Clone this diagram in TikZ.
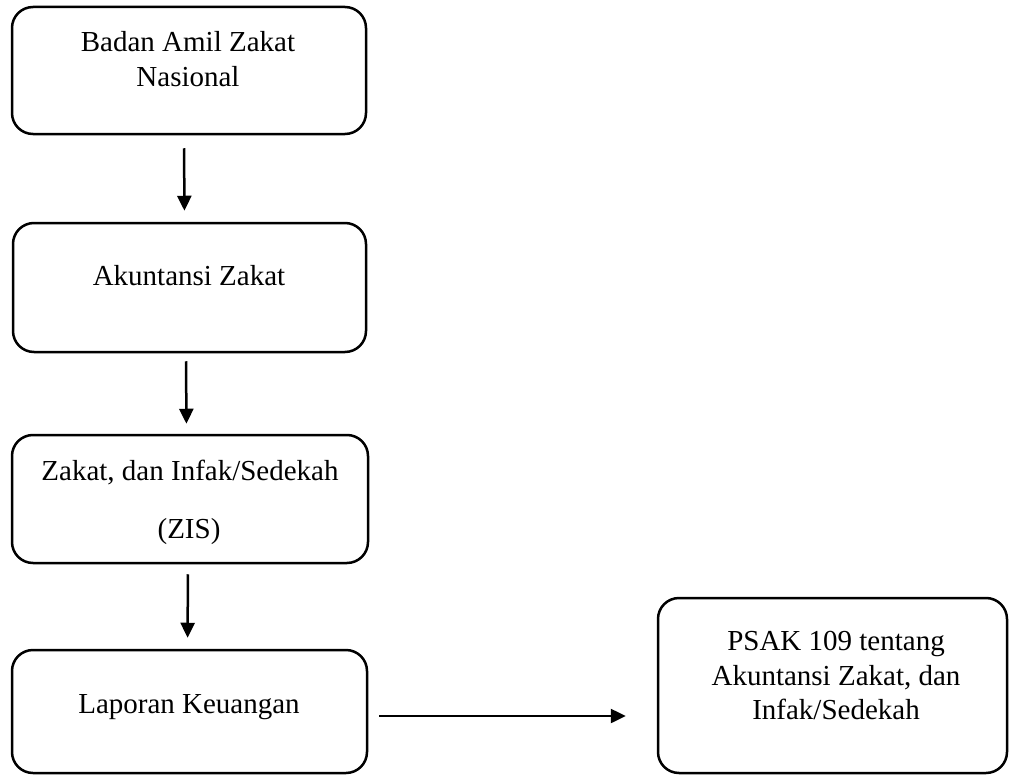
\documentclass[tikz,border=0pt]{standalone}
\usepackage{fontspec}
\setmainfont{Liberation Serif}
\usetikzlibrary{arrows.meta}
\begin{document}
\begin{tikzpicture}[x=1pt,y=-1pt,
  box/.style={draw,line width=2.5pt,rounded corners=21pt,inner sep=0pt},
  lbl/.style={anchor=base,inner sep=0pt,font=\fontsize{29}{34}\selectfont},
  arr/.style={line width=2.5pt,-{Triangle[length=15pt,width=14pt]}}]
\useasboundingbox (0,0) rectangle (1010,776);
\node[box,minimum width=354pt,minimum height=127pt] (b1) at (189,70.5) {};
\node[box,minimum width=353pt,minimum height=129pt] (b2) at (189.5,287.5) {};
\node[box,minimum width=356pt,minimum height=128pt] (b3) at (190,499) {};
\node[box,minimum width=355pt,minimum height=123pt] (b4) at (189.5,711.5) {};
\node[box,minimum width=349pt,minimum height=175pt] (b5) at (832.5,685.5) {};
\node[lbl] (t1a) at (188,52) {Badan Amil Zakat};
\node[lbl] (t1b) at (188,86) {Nasional};
\node[lbl] (t2) at (189,285) {Akuntansi Zakat};
\node[lbl] (t3a) at (190,480) {Zakat, dan Infak/Sedekah};
\node[lbl] (t3b) at (189,538) {(ZIS)};
\node[lbl] (t4) at (189,713) {Laporan Keuangan};
\node[lbl] (t5a) at (836,650) {PSAK 109 tentang};
\node[lbl] (t5b) at (836,685) {Akuntansi Zakat, dan};
\node[lbl] (t5c) at (836,719) {Infak/Sedekah};
\draw[arr,shorten <=13pt,shorten >=11pt] ([xshift=-5pt]b1.south) -- ([xshift=-5pt]b2.north);
\draw[arr,shorten <=8pt,shorten >=10pt] ([xshift=-3.5pt]b2.south) -- ([xshift=-3.5pt]b3.north);
\draw[arr,shorten <=10pt,shorten >=11pt] ([xshift=-2pt]b3.south) -- ([xshift=-2pt]b4.north);
\draw[arr,shorten <=11pt,shorten >=31pt] ([yshift=-4.5pt]b4.east) -- ([yshift=-4.5pt]b4.east -| b5.west);
\end{tikzpicture}
\end{document}
